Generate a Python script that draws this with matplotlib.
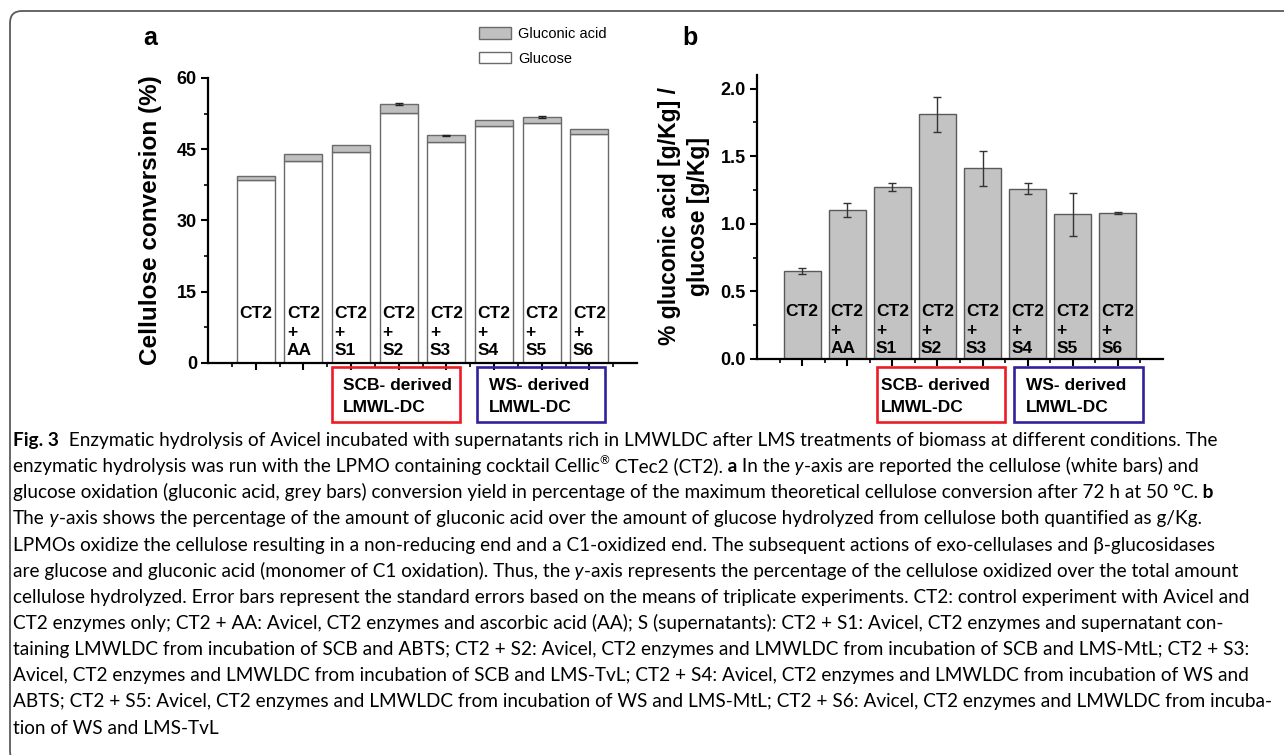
import matplotlib
matplotlib.use("Agg")
import matplotlib.pyplot as plt
import numpy as np
from matplotlib.transforms import IdentityTransform
from matplotlib.patches import Rectangle, FancyBboxPatch
from matplotlib.ticker import FormatStrFormatter

# ---------------- data ----------------
categories = ["CT2", "CT2\n+\nAA", "CT2\n+\nS1", "CT2\n+\nS2",
              "CT2\n+\nS3", "CT2\n+\nS4", "CT2\n+\nS5", "CT2\n+\nS6"]
glucose = [38.6, 42.6, 44.4, 52.6, 46.5, 50.0, 50.5, 48.2]
gluconic = [0.7, 1.3, 1.4, 1.9, 1.4, 1.2, 1.3, 1.1]
err_a = [0.0, 0.0, 0.0, 0.15, 0.1, 0.0, 0.3, 0.0]
ratio = [0.65, 1.10, 1.27, 1.81, 1.41, 1.26, 1.07, 1.08]
err_b = [0.02, 0.05, 0.03, 0.13, 0.13, 0.04, 0.16, 0.01]
yticks_a = [0, 15, 30, 45, 60]
yticks_b = [0.0, 0.5, 1.0, 1.5, 2.0]
legend_labels = ["Gluconic acid", "Glucose"]
group_labels = ["SCB- derived\nLMWL-DC", "WS- derived\nLMWL-DC"]

W, H = 1284, 755
plt.rcParams["font.family"] = ["Liberation Sans", "DejaVu Sans"]
fig = plt.figure(figsize=(W / 100, H / 100), dpi=100)
ID = IdentityTransform()


def fig_axes(l, t, r, b):
    return fig.add_axes([l / W, 1 - b / H, (r - l) / W, (b - t) / H])


ax_a = fig_axes(208, 78, 637, 363)
ax_b = fig_axes(757, 75, 1163, 359)
x = np.arange(1, len(categories) + 1)

EDGE = "#6a6a6a"
# panel a
bars_glc = ax_a.bar(x, glucose, width=0.8, color="white", edgecolor=EDGE, lw=1.0)
bars_gla = ax_a.bar(x, gluconic, bottom=glucose, width=0.8, color="#c0c0c0",
                    edgecolor=EDGE, lw=1.0)
total = np.add(glucose, gluconic)
mask = np.array(err_a) > 0
ax_a.errorbar(x[mask], total[mask], yerr=np.array(err_a)[mask], fmt="none",
              ecolor="#222222", elinewidth=1.0, capsize=3, capthick=1.0)

# panel b
ax_b.bar(x, ratio, width=0.82, color="#c3c3c3", edgecolor="#5a5a5a", lw=1.0,
         yerr=err_b, error_kw=dict(ecolor="#333333", elinewidth=1.0, capsize=3, capthick=1.0))

for ax, yt, ylim in [(ax_a, yticks_a, 60), (ax_b, yticks_b, 2.1)]:
    ax.set_xlim(0, 9)
    ax.set_ylim(0, ylim)
    for s in ("top", "right"):
        ax.spines[s].set_visible(False)
    for s in ("left", "bottom"):
        ax.spines[s].set_linewidth(1.6)
    ax.set_xticks(x)
    ax.set_xticklabels([])
    ax.set_xticks(np.arange(0.5, 9.0, 1.0), minor=True)
    ax.set_yticks(yt)
    step = yt[1] - yt[0]
    ax.set_yticks(np.arange(step / 2, yt[-1], step), minor=True)
    ax.tick_params(which="major", direction="out", length=5, width=1.5, labelsize=13, pad=3)
    ax.tick_params(which="minor", direction="out", length=3, width=1.2)

ax_b.yaxis.set_major_formatter(FormatStrFormatter("%.1f"))
for ax in (ax_a, ax_b):
    for lab in ax.get_yticklabels():
        lab.set_fontweight("bold")

for xi, lab in zip(x, categories):
    ax_a.text(xi, 12.0, lab, ha="center", va="top", multialignment="left",
              fontsize=12.5, fontweight="bold", linespacing=1.3)
    ax_b.text(xi, 0.405, lab, ha="center", va="top", multialignment="left",
              fontsize=12.5, fontweight="bold", linespacing=1.3)

# y labels
fig.text(150, H - 220.5, "Cellulose conversion (%)", transform=ID, rotation=90,
         ha="center", va="center", fontsize=17.5, fontweight="bold")
fig.text(684, H - 216, "% gluconic acid [g/Kg] /\nglucose [g/Kg]", transform=ID,
         rotation=90, ha="center", va="center", multialignment="center",
         fontsize=16.5, fontweight="bold", linespacing=1.3)

# panel letters
fig.text(150, H - 38, "a", transform=ID, ha="center", va="center", fontsize=18, fontweight="bold")
fig.text(690, H - 38, "b", transform=ID, ha="center", va="center", fontsize=18, fontweight="bold")

# legend
fig.legend(handles=[bars_gla, bars_glc], labels=legend_labels, loc="upper left",
           bbox_to_anchor=(479 / W, 1 - 27 / H), frameon=False,
           prop=dict(family="Liberation Sans", weight="normal", size=10.5),
           handlelength=2.2, handleheight=0.8, handletextpad=0.5,
           labelspacing=0.75, borderpad=0, borderaxespad=0)

# group boxes
RED, BLUE = "#ec1c24", "#30229e"
boxes = [(332, 460, RED, group_labels[0], 11), (477, 605, BLUE, group_labels[1], 12),
         (877, 1005, RED, group_labels[0], 4), (1014, 1143, BLUE, group_labels[1], 12)]
for l, r, col, txt, off in boxes:
    fig.add_artist(Rectangle((l, H - 422), r - l, 422 - 367, transform=ID, fill=False,
                             ec=col, lw=1.9))
    l1, l2 = txt.split("\n")
    fig.text(l + off, H - 385, l1, transform=ID, ha="left", va="center",
             fontsize=12.5, fontweight="bold")
    fig.text(l + off, H - 408, l2, transform=ID, ha="left", va="center",
             fontsize=12.5, fontweight="bold")

# frame
fig.add_artist(FancyBboxPatch((10, -8), 1330, H - 11 + 8, transform=ID,
                              boxstyle="round,pad=0,rounding_size=12",
                              fc="none", ec="#5a5a5a", lw=1.3))

# ---------------- caption ----------------
caption = [
    [("Fig. 3", "b"), ("  Enzymatic hydrolysis of Avicel incubated with supernatants rich in LMWLDC after LMS treatments of biomass at different conditions. The", "n")],
    [("enzymatic hydrolysis was run with the LPMO containing cocktail Cellic", "n"), ("®", "sup"), (" CTec2 (CT2).", "n"), (" a", "b"), (" In the", "n"), (" y", "i"), ("-axis are reported the cellulose (white bars) and", "n")],
    [("glucose oxidation (gluconic acid, grey bars) conversion yield in percentage of the maximum theoretical cellulose conversion after 72 h at 50 °C.", "n"), (" b", "b")],
    [("The", "n"), (" y", "i"), ("-axis shows the percentage of the amount of gluconic acid over the amount of glucose hydrolyzed from cellulose both quantified as g/Kg.", "n")],
    [("LPMOs oxidize the cellulose resulting in a non-reducing end and a C1-oxidized end. The subsequent actions of exo-cellulases and β-glucosidases", "n")],
    [("are glucose and gluconic acid (monomer of C1 oxidation). Thus, the", "n"), (" y", "i"), ("-axis represents the percentage of the cellulose oxidized over the total amount", "n")],
    [("cellulose hydrolyzed. Error bars represent the standard errors based on the means of triplicate experiments. CT2: control experiment with Avicel and", "n")],
    [("CT2 enzymes only; CT2 + AA: Avicel, CT2 enzymes and ascorbic acid (AA); S (supernatants): CT2 + S1: Avicel, CT2 enzymes and supernatant con-", "n")],
    [("taining LMWLDC from incubation of SCB and ABTS; CT2 + S2: Avicel, CT2 enzymes and LMWLDC from incubation of SCB and LMS-MtL; CT2 + S3:", "n")],
    [("Avicel, CT2 enzymes and LMWLDC from incubation of SCB and LMS-TvL; CT2 + S4: Avicel, CT2 enzymes and LMWLDC from incubation of WS and", "n")],
    [("ABTS; CT2 + S5: Avicel, CT2 enzymes and LMWLDC from incubation of WS and LMS-MtL; CT2 + S6: Avicel, CT2 enzymes and LMWLDC from incuba-", "n")],
    [("tion of WS and LMS-TvL", "n")],
]
CAPF = ["Lato", "DejaVu Sans"]
renderer = fig.canvas.get_renderer()


def draw_line(x0, ybase, segs, size):
    xx = x0
    arts = []
    for s, st in segs:
        kw = dict(fontsize=size, family=CAPF, fontweight="normal", fontstyle="normal")
        yy = H - ybase
        if st == "b":
            kw["fontweight"] = "bold"
        elif st == "i":
            kw["fontstyle"] = "italic"
        elif st == "sup":
            kw["fontsize"] = size * 0.62
            yy += size * 0.42 * 100 / 72
        t = fig.text(xx, yy, s, transform=ID, ha="left", va="baseline", **kw)
        bb = t.get_window_extent(renderer)
        xx = bb.x1 + (0.5 if st == "i" else 0.0)
        arts.append(t)
    return xx, arts


# size the caption font so that the longest line spans the same width as the source
widest = 0.0
for segs in caption:
    end, arts = draw_line(13, 0, segs, 13)
    widest = max(widest, end - 13)
    for a in arts:
        a.remove()
cap_size = 13 * (1268 - 13) / widest

for i, segs in enumerate(caption):
    draw_line(13, 446 + i * 26.15, segs, cap_size)

fig.savefig("out.png", dpi=100)
